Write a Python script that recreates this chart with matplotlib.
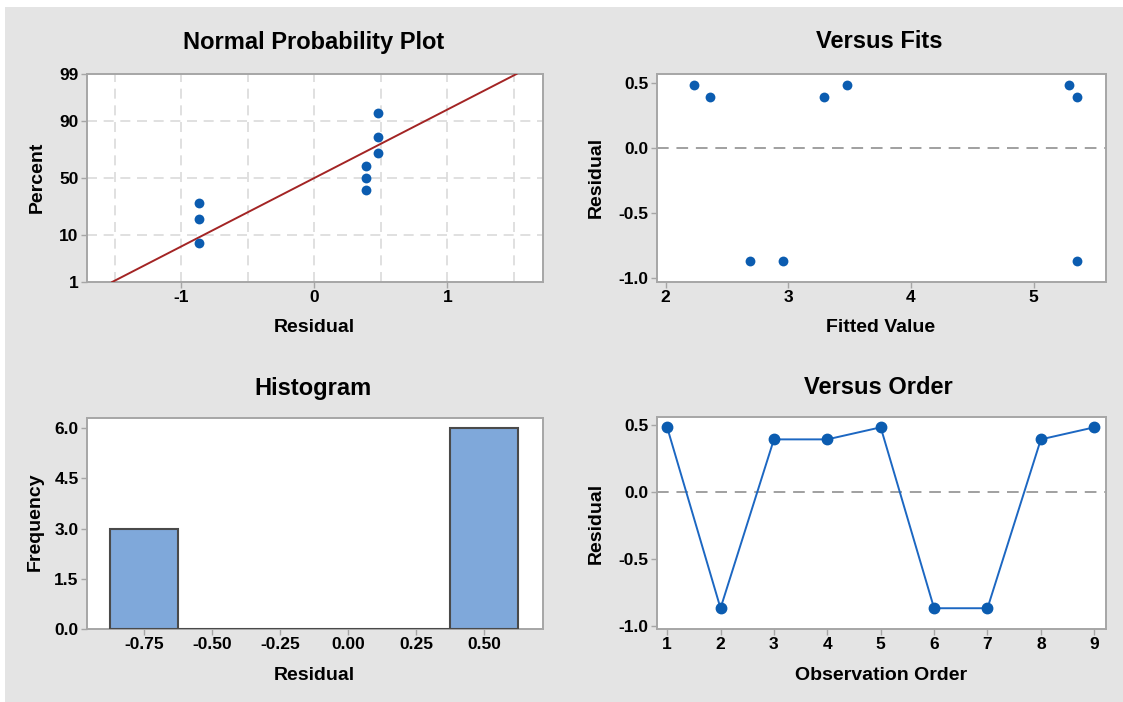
import matplotlib
matplotlib.use("Agg")
import matplotlib.pyplot as plt
from matplotlib.patches import Rectangle
from statistics import NormalDist
import numpy as np

# Residuals in observation order and the fitted values they belong to
residuals = [0.48, -0.87, 0.39, 0.39, 0.48, -0.87, -0.87, 0.39, 0.48]
fitted = [2.23, 2.69, 2.36, 3.29, 3.48, 2.96, 5.35, 5.35, 5.29]
observation = [1, 2, 3, 4, 5, 6, 7, 8, 9]

prob_ticks = [1, 10, 50, 90, 99]
prob_xticks = [-1, 0, 1]
hist_edges = [-0.875, -0.625, -0.375, -0.125, 0.125, 0.375, 0.625]
hist_xticks = [-0.75, -0.50, -0.25, 0.00, 0.25, 0.50]
hist_yticks = [0.0, 1.5, 3.0, 4.5, 6.0]
resid_yticks = [0.5, 0.0, -0.5, -1.0]
fit_xticks = [2, 3, 4, 5]

plt.rcParams["font.family"] = ["Liberation Sans", "DejaVu Sans"]
plt.rcParams["font.weight"] = "bold"
plt.rcParams["axes.unicode_minus"] = False

W, H = 1123, 702
fig = plt.figure(figsize=(W / 100, H / 100), dpi=100)
fig.patch.set_facecolor("white")
fig.patches.append(Rectangle((5 / W, 0), 1, 1 - 7 / H, transform=fig.transFigure,
                             facecolor="#e4e4e4", edgecolor="none", zorder=-10))

BLUE = "#0b5cb0"
FRAME = "#a6a6a6"


def px_axes(l, t, r, b):
    ax = fig.add_axes([l / W, 1 - b / H, (r - l) / W, (b - t) / H])
    ax.set_facecolor("white")
    for s in ax.spines.values():
        s.set_color(FRAME)
        s.set_linewidth(1.4)
    ax.tick_params(length=4, width=1.0, color=FRAME, pad=2, labelsize=12.5)
    return ax


def px_text(x, y, s, size, rotation=0):
    fig.text(x / W, 1 - y / H, s, ha="center", va="center", fontsize=size,
             fontweight="bold", rotation=rotation)


def bold_ticks(ax):
    for lab in ax.get_xticklabels() + ax.get_yticklabels():
        lab.set_fontweight("bold")


nd = NormalDist()
res = np.array(residuals)

# ---- Normal probability plot ----
ax1 = px_axes(87, 74, 543, 282)
srt = np.sort(res)
n = len(srt)
pct = (np.arange(1, n + 1) - 0.3) / (n + 0.4)
zpts = [nd.inv_cdf(p) for p in pct]
mu, sd = res.mean(), res.std(ddof=1)
z_lo, z_hi = nd.inv_cdf(0.01), nd.inv_cdf(0.99)
ax1.plot([mu + sd * z_lo, mu + sd * z_hi], [z_lo, z_hi], color="#a32424", lw=1.4, zorder=3)
ax1.scatter(srt, zpts, s=50, color=BLUE, zorder=4, linewidths=0)
for gx in [-1.5, -1.0, -0.5, 0.0, 0.5, 1.0, 1.5]:
    ax1.axvline(gx, color="#dadada", lw=1.2, ls=(0, (6, 4)), zorder=1)
for gy in [10, 50, 90]:
    ax1.axhline(nd.inv_cdf(gy / 100), color="#dadada", lw=1.2, ls=(0, (6, 4)), zorder=1)
ax1.set_xlim(-1.71, 1.72)
ax1.set_ylim(z_lo, z_hi)
ax1.set_xticks(prob_xticks)
ax1.set_xticklabels([str(v) for v in prob_xticks])
ax1.set_yticks([nd.inv_cdf(p / 100) for p in prob_ticks])
ax1.set_yticklabels([str(p) for p in prob_ticks])
bold_ticks(ax1)
px_text(314, 42, "Normal Probability Plot", 17)
px_text(314, 327, "Residual", 14)
px_text(37, 177, "Percent", 14, rotation=90)

# ---- Versus fits ----
ax2 = px_axes(657, 74, 1106, 282)
ax2.axhline(0, color="#a0a0a0", lw=1.4, ls=(0, (6, 4)), zorder=1)
ax2.scatter(fitted, residuals, s=50, color=BLUE, zorder=4, linewidths=0)
ax2.set_xlim(1.93, 5.59)
ax2.set_ylim(-1.034, 0.567)
ax2.set_xticks(fit_xticks)
ax2.set_yticks(resid_yticks)
ax2.set_yticklabels([f"{v:.1f}" for v in resid_yticks])
bold_ticks(ax2)
px_text(879, 42, "Versus Fits", 17)
px_text(881, 327, "Fitted Value", 14)
px_text(596, 177, "Residual", 14, rotation=90)

# ---- Histogram ----
ax3 = px_axes(87, 418, 543, 629)
ax3.hist(residuals, bins=hist_edges, color="#7fa8da", edgecolor="#4a4a4a", linewidth=1.5,
         zorder=3)
ax3.set_xlim(-0.96, 0.715)
ax3.set_ylim(0, 6.3)
ax3.set_xticks(hist_xticks)
ax3.set_xticklabels([f"{v:.2f}" for v in hist_xticks])
ax3.set_yticks(hist_yticks)
ax3.set_yticklabels([f"{v:.1f}" for v in hist_yticks])
bold_ticks(ax3)
px_text(313, 388, "Histogram", 17)
px_text(314, 675, "Residual", 14)
px_text(35, 522, "Frequency", 14, rotation=90)

# ---- Versus order ----
ax4 = px_axes(657, 417, 1106, 629)
ax4.axhline(0, color="#a0a0a0", lw=1.4, ls=(0, (6, 4)), zorder=1)
ax4.plot(observation, residuals, color="#1c67c2", lw=1.4, marker="o", ms=7.5,
         mfc=BLUE, mec=BLUE, zorder=4)
ax4.set_xlim(0.81, 9.22)
ax4.set_ylim(-1.025, 0.557)
ax4.set_xticks(observation)
ax4.set_yticks(resid_yticks)
ax4.set_yticklabels([f"{v:.1f}" for v in resid_yticks])
bold_ticks(ax4)
px_text(878, 388, "Versus Order", 17)
px_text(881, 675, "Observation Order", 14)
px_text(596, 523, "Residual", 14, rotation=90)

fig.savefig("out.png", dpi=100)
